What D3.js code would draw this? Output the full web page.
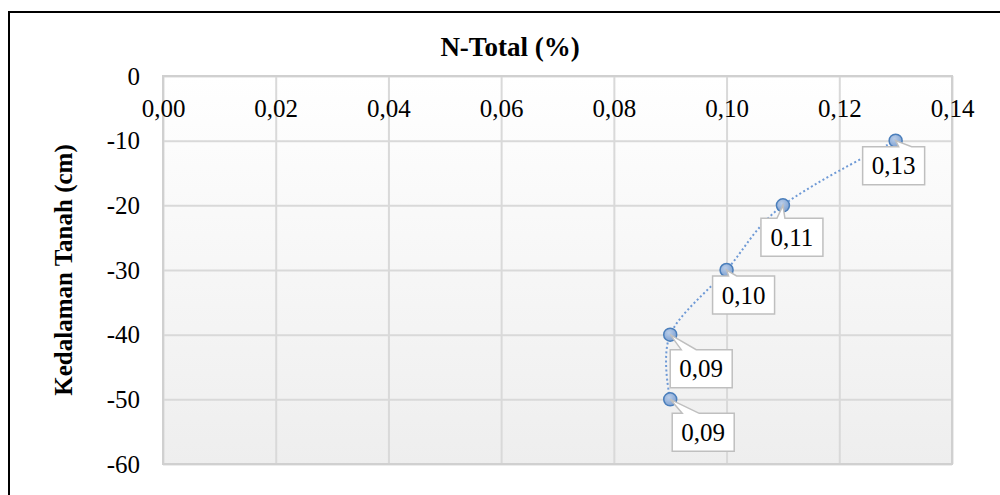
<!DOCTYPE html>
<html>
<head>
<meta charset="utf-8">
<script src="https://cdn.jsdelivr.net/npm/d3@7"></script>
<style>
  html, body { margin: 0; padding: 0; background: #fff; }
  text { font-family: "Liberation Serif", "Times New Roman", serif; fill: #000; }
</style>
</head>
<body>
<div id="chart"></div>
<script>
// data
var nTotal = [0.13, 0.11, 0.10, 0.09, 0.09];
var depth = [-10, -20, -30, -40, -50];
var xTicks = [0, 0.02, 0.04, 0.06, 0.08, 0.10, 0.12, 0.14];
var yTicks = [0, -10, -20, -30, -40, -50, -60];

// callout placement per point: box left, box top, wedge start, wedge end (px from point)
var callouts = [
    [-33, 6, 3, 16],
    [-22, 13, -6, 2],
    [-14, 6, 2, 10],
    [0, 15, 11, 26],
    [2, 14, 12, 29]
];

var width = 1000,
    height = 495,
    plotLeft = 163, plotRight = 952, plotTop = 76, plotBottom = 464;

var fmt = function (v) { return d3.format('.2f')(v).replace('.', ','); };

var svg = d3.select('#chart')
    .append('svg')
    .attr('width', width)
    .attr('height', height);

var defs = svg.append('defs');
var bg = defs.append('linearGradient').attr('id', 'plotBg')
    .attr('x1', 0).attr('y1', 0).attr('x2', 0).attr('y2', 1);
bg.append('stop').attr('offset', '0%').attr('stop-color', '#ffffff');
bg.append('stop').attr('offset', '100%').attr('stop-color', '#eeeeee');

var mk = defs.append('radialGradient').attr('id', 'markerFill')
    .attr('cx', '40%').attr('cy', '35%').attr('r', '70%');
mk.append('stop').attr('offset', '0%').attr('stop-color', '#b9cde9');
mk.append('stop').attr('offset', '100%').attr('stop-color', '#7c9fd0');

// chart frame
svg.append('rect')
    .attr('x', 9).attr('y', 12)
    .attr('width', 1100).attr('height', 600)
    .attr('fill', '#fff')
    .attr('stroke', '#000')
    .attr('stroke-width', 2);

var x = d3.scaleLinear().domain([0, 0.14]).range([plotLeft, plotRight]);
var y = d3.scaleLinear().domain([0, -60]).range([plotTop, plotBottom]);

svg.append('rect')
    .attr('x', plotLeft).attr('y', plotTop)
    .attr('width', plotRight - plotLeft).attr('height', plotBottom - plotTop)
    .attr('fill', 'url(#plotBg)');

// gridlines
var gridX = svg.append('g')
    .attr('transform', 'translate(0,' + plotBottom + ')')
    .call(d3.axisBottom(x).tickValues(xTicks).tickSize(-(plotBottom - plotTop)).tickFormat(''));
var gridY = svg.append('g')
    .attr('transform', 'translate(' + plotLeft + ',0)')
    .call(d3.axisLeft(y).tickValues(yTicks).tickSize(-(plotRight - plotLeft)).tickFormat(''));
[gridX, gridY].forEach(function (g) {
    g.select('.domain').remove();
    g.selectAll('line').attr('stroke', '#d9d9d9').attr('stroke-width', 2);
});

svg.append('rect')
    .attr('x', plotLeft).attr('y', plotTop)
    .attr('width', plotRight - plotLeft).attr('height', plotBottom - plotTop)
    .attr('fill', 'none')
    .attr('stroke', '#d0d0d0')
    .attr('stroke-width', 2);

// tick labels
var axX = svg.append('g')
    .attr('transform', 'translate(0,' + plotTop + ')')
    .call(d3.axisBottom(x).tickValues(xTicks).tickSize(0).tickPadding(23).tickFormat(fmt));
var axY = svg.append('g')
    .attr('transform', 'translate(' + plotLeft + ',0)')
    .call(d3.axisLeft(y).tickValues(yTicks).tickSize(0).tickPadding(23)
        .tickFormat(function (d) { return String(d); }));
[axX, axY].forEach(function (g) {
    g.select('.domain').remove();
    g.selectAll('text')
        .attr('font-family', '"Liberation Serif", serif')
        .attr('font-size', 25)
        .attr('fill', '#000');
});

// titles
svg.append('text')
    .attr('x', 510).attr('y', 56)
    .attr('text-anchor', 'middle')
    .attr('font-weight', 'bold')
    .attr('font-size', 27)
    .text('N-Total (%)');

svg.append('text')
    .attr('transform', 'translate(63,' + ((plotTop + plotBottom) / 2) + ') rotate(-90)')
    .attr('text-anchor', 'middle')
    .attr('dy', '0.35em')
    .attr('font-weight', 'bold')
    .attr('font-size', 25)
    .text('Kedalaman Tanah (cm)');

var points = nTotal.map(function (v, i) { return { v: v, d: depth[i], c: callouts[i] }; });

var line = d3.line()
    .x(function (p) { return x(p.v); })
    .y(function (p) { return y(p.d); })
    .curve(d3.curveCardinal.tension(0));

svg.append('path')
    .datum(points)
    .attr('d', line)
    .attr('fill', 'none')
    .attr('stroke', '#6f9ad6')
    .attr('stroke-width', 2)
    .attr('stroke-dasharray', '2,2.5');

svg.selectAll('circle.pt')
    .data(points)
    .enter()
    .append('circle')
    .attr('class', 'pt')
    .attr('cx', function (p) { return x(p.v); })
    .attr('cy', function (p) { return y(p.d); })
    .attr('r', 6.5)
    .attr('fill', 'url(#markerFill)')
    .attr('stroke', '#4a7ebb')
    .attr('stroke-width', 1.5);

// data callouts
var boxW = 62, boxH = 38;
var calloutPath = function (p) {
    var px = x(p.v), py = y(p.d);
    var x0 = px + p.c[0], y0 = py + p.c[1];
    return 'M' + x0 + ',' + y0 +
        'L' + (px + p.c[2]) + ',' + y0 +
        'L' + px + ',' + py +
        'L' + (px + p.c[3]) + ',' + y0 +
        'L' + (x0 + boxW) + ',' + y0 +
        'L' + (x0 + boxW) + ',' + (y0 + boxH) +
        'L' + x0 + ',' + (y0 + boxH) + 'Z';
};

var labels = svg.selectAll('g.callout')
    .data(points)
    .enter()
    .append('g')
    .attr('class', 'callout');

labels.append('path')
    .attr('d', calloutPath)
    .attr('fill', '#fff')
    .attr('stroke', '#bfbfbf')
    .attr('stroke-width', 1.5)
    .attr('stroke-linejoin', 'miter');

labels.append('text')
    .attr('x', function (p) { return x(p.v) + p.c[0] + boxW / 2; })
    .attr('y', function (p) { return y(p.d) + p.c[1] + boxH / 2; })
    .attr('dy', '0.34em')
    .attr('text-anchor', 'middle')
    .attr('font-size', 25)
    .text(function (p) { return fmt(p.v); });
</script>
</body>
</html>
